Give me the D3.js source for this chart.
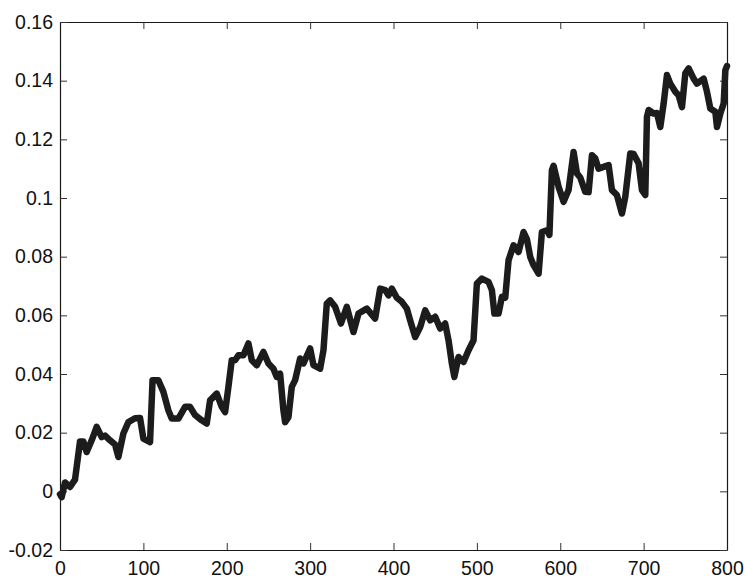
<!DOCTYPE html>
<html lang="en">
<head>
<meta charset="UTF-8">
<title>Random walk</title>
<script src="https://cdn.jsdelivr.net/npm/d3@7"></script>
<style>
  body { margin: 0; background: #fff; }
  svg text { font-family: "Liberation Sans", Arial, Helvetica, sans-serif; }
</style>
</head>
<body>
<script>
// values
const xs = [0, 2, 6, 12, 18, 24, 28, 32, 38, 44, 50, 54, 60, 66, 70, 76, 82, 90, 96, 100,
  108, 111, 118, 124, 130, 134, 142, 150, 156, 162, 170, 176, 180, 188, 194, 198, 202, 206,
  210, 214, 220, 226, 230, 236, 244, 250, 256, 260, 264, 268, 270, 274, 278, 282, 288, 292,
  300, 304, 312, 316, 320, 324, 330, 337, 344, 352, 358, 368, 378, 384, 390, 394, 398, 404,
  410, 416, 420, 426, 432, 438, 444, 450, 456, 462, 466, 470, 473, 478, 484, 490, 496, 500,
  506, 514, 518, 521, 526, 530, 534, 538, 544, 550, 556, 560, 564, 568, 574, 578, 584, 587,
  590, 592, 598, 604, 610, 616, 620, 624, 630, 634, 638, 642, 646, 652, 658, 662, 668, 674,
  678, 684, 688, 694, 698, 702, 704, 706, 712, 716, 720, 724, 728, 732, 738, 742, 746, 750,
  754, 760, 764, 772, 776, 780, 786, 788, 792, 796, 798, 800];
const ys = [-0.001, -0.002, 0.003, 0.0015, 0.004, 0.017, 0.017, 0.0134, 0.0174, 0.022, 0.0185,
  0.019, 0.0174, 0.016, 0.0117, 0.0197, 0.0236, 0.0249, 0.025, 0.018,
  0.0168, 0.0379, 0.0379, 0.0339, 0.0276, 0.0248, 0.0248, 0.0288, 0.0288, 0.026, 0.0242, 0.0231,
  0.031, 0.0333, 0.0288, 0.027, 0.0356, 0.0447,
  0.0447, 0.0464, 0.0464, 0.0504, 0.0447, 0.043, 0.0475, 0.0436, 0.0418, 0.039, 0.0401, 0.0276,
  0.0236, 0.0253, 0.0356, 0.0379, 0.0453, 0.0436,
  0.0487, 0.043, 0.0418, 0.0481, 0.064, 0.0651, 0.0629, 0.0572, 0.0629, 0.0543, 0.0606, 0.0623,
  0.0589, 0.0691, 0.0686, 0.0668, 0.0691, 0.066,
  0.0646, 0.0623, 0.0583, 0.0526, 0.056, 0.0617, 0.0583, 0.0595, 0.0555, 0.0572, 0.0515, 0.0436,
  0.039, 0.0458, 0.0441, 0.0481, 0.0515, 0.0708,
  0.0725, 0.0714, 0.0686, 0.0606, 0.0606, 0.0663, 0.066, 0.0788, 0.0839, 0.0816, 0.0884, 0.086,
  0.0799, 0.0771, 0.0742, 0.0884, 0.089, 0.0874,
  0.1095, 0.111, 0.1038, 0.0987, 0.1027, 0.1157, 0.1084, 0.107, 0.1021, 0.102, 0.1146, 0.1135,
  0.110, 0.1106, 0.1112, 0.1027, 0.101, 0.0947,
  0.1004, 0.1152, 0.115, 0.1118, 0.1027, 0.101, 0.1277, 0.130, 0.1288, 0.129, 0.1242, 0.1322,
  0.1419, 0.139, 0.1362, 0.135, 0.131, 0.1425,
  0.1442, 0.1407, 0.139, 0.1407, 0.1362, 0.1305, 0.1294, 0.1242, 0.1288, 0.1322, 0.1436, 0.145];
const xTicks = [0, 100, 200, 300, 400, 500, 600, 700, 800];
const yTicks = [-0.02, 0, 0.02, 0.04, 0.06, 0.08, 0.1, 0.12, 0.14, 0.16];

const width = 746, height = 578;
const axLeft = 60, axRight = 727, axTop = 22, axBottom = 550;

const svg = d3.select("body").append("svg")
    .attr("width", width)
    .attr("height", height);

const x = d3.scaleLinear().domain([0, 800]).range([axLeft, axRight]);
const y = d3.scaleLinear().domain([-0.02, 0.16]).range([axBottom, axTop]);

const fmt = d => String(+d.toFixed(2));

// box + inward ticks on all four sides
function styleAxis(g) {
  g.selectAll("path.domain").attr("stroke", "#1a1a1a").attr("stroke-width", 1.2);
  g.selectAll(".tick line").attr("stroke", "#333").attr("stroke-width", 1);
  g.selectAll("text").attr("fill", "#111").style("font-size", "19.5px");
}

svg.append("g")
    .attr("transform", `translate(0,${axBottom})`)
    .call(d3.axisBottom(x).tickValues(xTicks).tickSizeInner(-7).tickSizeOuter(0).tickPadding(11).tickFormat(d3.format("d")))
    .call(styleAxis);

svg.append("g")
    .attr("transform", `translate(0,${axTop})`)
    .call(d3.axisTop(x).tickValues(xTicks).tickSizeInner(-7).tickSizeOuter(0).tickFormat(""))
    .call(styleAxis);

svg.append("g")
    .attr("transform", `translate(${axLeft},0)`)
    .call(d3.axisLeft(y).tickValues(yTicks).tickSizeInner(-7).tickSizeOuter(0).tickPadding(7).tickFormat(fmt))
    .call(styleAxis);

svg.append("g")
    .attr("transform", `translate(${axRight},0)`)
    .call(d3.axisRight(y).tickValues(yTicks).tickSizeInner(-7).tickSizeOuter(0).tickFormat(""))
    .call(styleAxis);

// the series
const pts = xs.map((v, i) => [v, ys[i]]);
svg.append("path")
    .datum(pts)
    .attr("fill", "none")
    .attr("stroke", "#1c1c1c")
    .attr("stroke-width", 6.5)
    .attr("stroke-linejoin", "round")
    .attr("stroke-linecap", "round")
    .attr("d", d3.line().x(d => x(d[0])).y(d => y(d[1])));
</script>
</body>
</html>
